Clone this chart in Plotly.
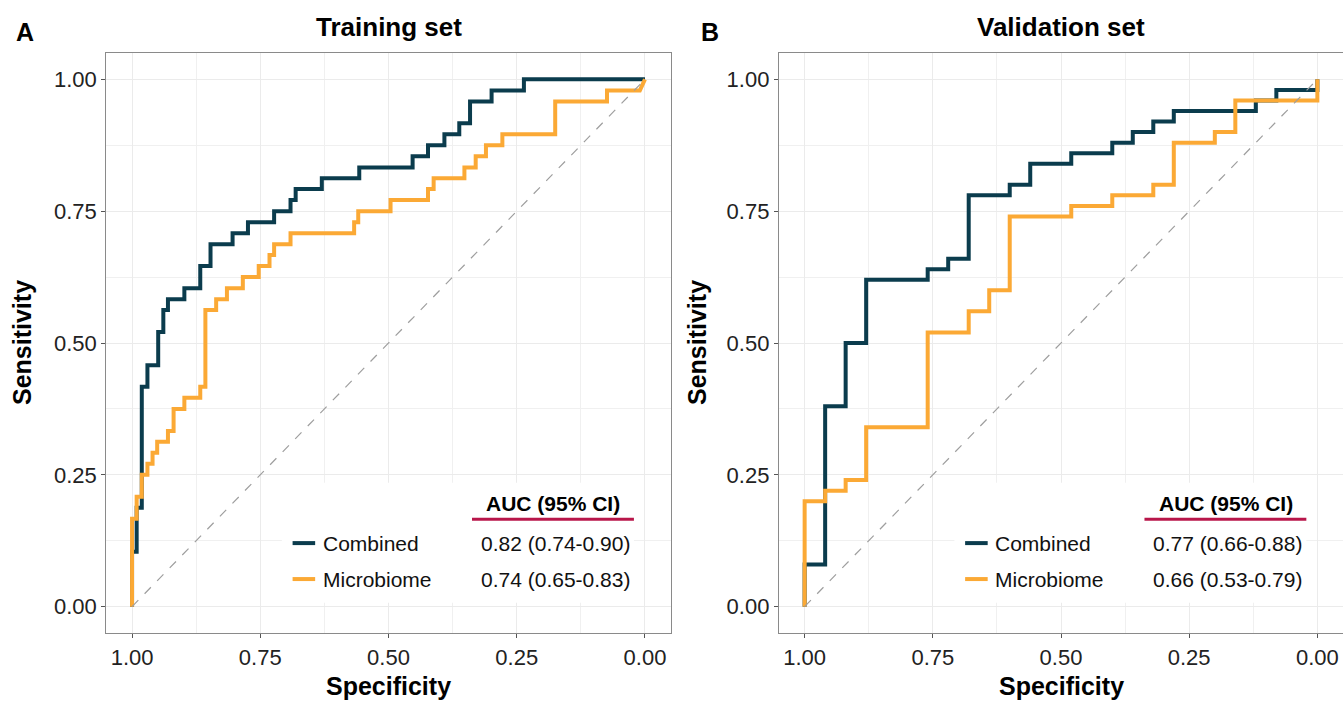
import plotly.graph_objects as go

# ---------------- data ----------------
tick_vals = [1.0, 0.75, 0.5, 0.25, 0.0]
tick_text = ["1.00", "0.75", "0.50", "0.25", "0.00"]
minor_vals = [0.875, 0.625, 0.375, 0.125]

series_names = ["Combined", "Microbiome"]
panel_titles = ["Training set", "Validation set"]
panel_letters = ["A", "B"]
auc_train = ["0.82 (0.74-0.90)", "0.74 (0.65-0.83)"]
auc_valid = ["0.77 (0.66-0.88)", "0.66 (0.53-0.79)"]

# Training set ROC corner points (specificity, sensitivity)
train_comb_spec = [1.0, 1.0, 0.991, 0.991, 0.981, 0.981, 0.970, 0.970, 0.949, 0.949,
                   0.939, 0.939, 0.930, 0.930, 0.898, 0.898, 0.867, 0.867, 0.847, 0.847,
                   0.804, 0.804, 0.774, 0.774, 0.723, 0.723, 0.691, 0.691, 0.681, 0.681,
                   0.630, 0.630, 0.557, 0.557, 0.453, 0.453, 0.423, 0.423, 0.391, 0.391,
                   0.362, 0.362, 0.341, 0.341, 0.299, 0.299, 0.236, 0.236, 0.0]
train_comb_sens = [0.0, 0.104, 0.104, 0.1875, 0.1875, 0.417, 0.417, 0.458, 0.458, 0.521,
                   0.521, 0.5625, 0.5625, 0.583, 0.583, 0.604, 0.604, 0.646, 0.646, 0.6875,
                   0.6875, 0.708, 0.708, 0.729, 0.729, 0.75, 0.75, 0.771, 0.771, 0.792,
                   0.792, 0.8125, 0.8125, 0.833, 0.833, 0.854, 0.854, 0.875, 0.875, 0.896,
                   0.896, 0.917, 0.917, 0.958, 0.958, 0.979, 0.979, 1.0, 1.0]

train_micro_spec = [1.0, 1.0, 0.991, 0.991, 0.981, 0.981, 0.970, 0.970, 0.960, 0.960,
                    0.951, 0.951, 0.930, 0.930, 0.919, 0.919, 0.898, 0.898, 0.867, 0.867,
                    0.857, 0.857, 0.836, 0.836, 0.815, 0.815, 0.784, 0.784, 0.753, 0.753,
                    0.732, 0.732, 0.723, 0.723, 0.691, 0.691, 0.567, 0.567, 0.559, 0.559,
                    0.496, 0.496, 0.423, 0.423, 0.412, 0.412, 0.352, 0.352, 0.330, 0.330,
                    0.310, 0.310, 0.278, 0.278, 0.175, 0.175, 0.074, 0.074, 0.010, 0.0]
train_micro_sens = [0.0, 0.1667, 0.1667, 0.2083, 0.2083, 0.25, 0.25, 0.271, 0.271, 0.2917,
                    0.2917, 0.3125, 0.3125, 0.333, 0.333, 0.375, 0.375, 0.396, 0.396, 0.417,
                    0.417, 0.5625, 0.5625, 0.583, 0.583, 0.604, 0.604, 0.625, 0.625, 0.646,
                    0.646, 0.667, 0.667, 0.6875, 0.6875, 0.708, 0.708, 0.729, 0.729, 0.75,
                    0.75, 0.771, 0.771, 0.792, 0.792, 0.8125, 0.8125, 0.833, 0.833, 0.854,
                    0.854, 0.875, 0.875, 0.896, 0.896, 0.958, 0.958, 0.979, 0.979, 1.0]

# Validation set ROC corner points
valid_comb_spec = [1.0, 1.0, 0.96, 0.96, 0.92, 0.92, 0.88, 0.88, 0.76, 0.76,
                   0.72, 0.72, 0.68, 0.68, 0.60, 0.60, 0.56, 0.56, 0.48, 0.48,
                   0.40, 0.40, 0.36, 0.36, 0.32, 0.32, 0.28, 0.28, 0.12, 0.12,
                   0.08, 0.08, 0.0, 0.0]
valid_comb_sens = [0.0, 0.08, 0.08, 0.38, 0.38, 0.50, 0.50, 0.62, 0.62, 0.64,
                   0.64, 0.66, 0.66, 0.78, 0.78, 0.80, 0.80, 0.84, 0.84, 0.86,
                   0.86, 0.88, 0.88, 0.90, 0.90, 0.92, 0.92, 0.94, 0.94, 0.96,
                   0.96, 0.98, 0.98, 1.0]

valid_micro_spec = [1.0, 1.0, 0.96, 0.96, 0.92, 0.92, 0.88, 0.88, 0.76, 0.76,
                    0.68, 0.68, 0.64, 0.64, 0.60, 0.60, 0.48, 0.48, 0.40, 0.40,
                    0.32, 0.32, 0.28, 0.28, 0.20, 0.20, 0.16, 0.16, 0.0, 0.0]
valid_micro_sens = [0.0, 0.20, 0.20, 0.22, 0.22, 0.24, 0.24, 0.34, 0.34, 0.52,
                    0.52, 0.56, 0.56, 0.60, 0.60, 0.74, 0.74, 0.76, 0.76, 0.78,
                    0.78, 0.80, 0.80, 0.88, 0.88, 0.90, 0.90, 0.96, 0.96, 1.0]

diag_spec = [1.0, 0.0]
diag_sens = [0.0, 1.0]

# ---------------- style ----------------
W, H = 1343, 705
C_COMB = "#0B3C4D"
C_MICRO = "#FBA935"
C_RED = "#B8164A"
FONT = "Liberation Sans, Arial, sans-serif"
X_RANGE = [1.05, -0.05]
Y_RANGE = [-0.05, 1.05]

x_domains = [[106.4 / W, 670.6 / W], [779.0 / W, 1.0]]
y_domain = [(H - 633) / H, (H - 53) / H]


def fx(frac):
    """domain fraction -> x data value (reversed axis)"""
    return X_RANGE[0] + frac * (X_RANGE[1] - X_RANGE[0])


def fy(frac):
    return Y_RANGE[0] + frac * (Y_RANGE[1] - Y_RANGE[0])


fig = go.Figure()

panels = [
    (train_comb_spec, train_comb_sens, train_micro_spec, train_micro_sens, auc_train),
    (valid_comb_spec, valid_comb_sens, valid_micro_spec, valid_micro_sens, auc_valid),
]

for i, (cs, cy, ms, my, aucs) in enumerate(panels):
    xa = "x" if i == 0 else "x2"
    ya = "y" if i == 0 else "y2"
    # legend background box (white, above gridlines, below curves)
    bx0, bx1, by0, by1 = fx(0.311), fx(0.935), fy(0.052), fy(0.259)
    fig.add_trace(go.Scatter(x=[bx0, bx1, bx1, bx0, bx0], y=[by0, by0, by1, by1, by0],
                             mode="lines", fill="toself", fillcolor="white",
                             line=dict(width=0, color="white"), xaxis=xa, yaxis=ya,
                             showlegend=False, hoverinfo="skip"))
    fig.add_trace(go.Scatter(x=cs, y=cy, mode="lines", xaxis=xa, yaxis=ya,
                             line=dict(color=C_COMB, width=4), showlegend=False,
                             name=series_names[0]))
    fig.add_trace(go.Scatter(x=ms, y=my, mode="lines", xaxis=xa, yaxis=ya,
                             line=dict(color=C_MICRO, width=4), showlegend=False,
                             name=series_names[1]))
    fig.add_trace(go.Scatter(x=diag_spec, y=diag_sens, mode="lines", xaxis=xa, yaxis=ya,
                             line=dict(color="#9e9e9e", width=1.2, dash="dash"),
                             showlegend=False, hoverinfo="skip"))

axis_common = dict(
    tickvals=tick_vals, ticktext=tick_text,
    showgrid=True, gridcolor="#ebebeb", gridwidth=1.2,
    minor=dict(tickvals=minor_vals, showgrid=True, gridcolor="#f0f0f0", gridwidth=0.8),
    showline=True, linecolor="#8a8a8a", linewidth=1.3, mirror=True,
    ticks="outside", ticklen=4, tickwidth=1, tickcolor="#555555",
    zeroline=False, tickfont=dict(family=FONT, size=22, color="#222222"),
    fixedrange=True,
)

fig.update_layout(
    width=W, height=H,
    margin=dict(l=0, r=0, t=0, b=0),
    paper_bgcolor="white", plot_bgcolor="white",
    xaxis=dict(domain=x_domains[0], range=X_RANGE, anchor="y", **axis_common),
    yaxis=dict(domain=y_domain, range=Y_RANGE, anchor="x", **axis_common),
    xaxis2=dict(domain=x_domains[1], range=X_RANGE, anchor="y2", **axis_common),
    yaxis2=dict(domain=y_domain, range=Y_RANGE, anchor="x2", **axis_common),
    showlegend=False,
)

annotations = []
shapes = []
centers = [(106.4 + 670.6) / 2, (779.0 + 1343.0) / 2]
letter_x = [24.5, 710.0]
ytitle_x = [22.0, 697.0]

for i in range(2):
    annotations.append(dict(text="<b>%s</b>" % panel_titles[i], x=centers[i] / W, y=1 - 27 / H,
                            xref="paper", yref="paper", xanchor="center", yanchor="middle",
                            showarrow=False, font=dict(family=FONT, size=26, color="black")))
    annotations.append(dict(text="<b>%s</b>" % panel_letters[i], x=letter_x[i] / W, y=1 - 32 / H,
                            xref="paper", yref="paper", xanchor="center", yanchor="middle",
                            showarrow=False, font=dict(family=FONT, size=25, color="black")))
    annotations.append(dict(text="<b>Specificity</b>", x=centers[i] / W, y=1 - 686 / H,
                            xref="paper", yref="paper", xanchor="center", yanchor="middle",
                            showarrow=False, font=dict(family=FONT, size=25, color="black")))
    annotations.append(dict(text="<b>Sensitivity</b>", x=ytitle_x[i] / W, y=1 - 343 / H,
                            xref="paper", yref="paper", xanchor="center", yanchor="middle",
                            textangle=-90, showarrow=False,
                            font=dict(family=FONT, size=25, color="black")))

    xa = "x" if i == 0 else "x2"
    ya = "y" if i == 0 else "y2"
    aucs = panels[i][4]
    annotations.append(dict(text="<b>AUC (95% CI)</b>", x=fx(0.792), y=fy(0.223), xref=xa, yref=ya,
                            xanchor="center", yanchor="middle", showarrow=False,
                            font=dict(family=FONT, size=21, color="black")))
    shapes.append(dict(type="line", xref=xa, yref=ya, x0=fx(0.648), x1=fx(0.935),
                       y0=fy(0.196), y1=fy(0.196),
                       line=dict(color=C_RED, width=3), layer="above"))
    rows_y = [0.155, 0.093]
    cols = [C_COMB, C_MICRO]
    for j in range(2):
        shapes.append(dict(type="line", xref=xa, yref=ya, x0=fx(0.330), x1=fx(0.370),
                           y0=fy(rows_y[j]), y1=fy(rows_y[j]),
                           line=dict(color=cols[j], width=4), layer="above"))
        annotations.append(dict(text=series_names[j], x=fx(0.380), y=fy(rows_y[j]), xref=xa, yref=ya,
                                xanchor="left", yanchor="middle", showarrow=False,
                                font=dict(family=FONT, size=21, color="#111111")))
        annotations.append(dict(text=aucs[j], x=fx(0.660), y=fy(rows_y[j]), xref=xa, yref=ya,
                                xanchor="left", yanchor="middle", showarrow=False,
                                font=dict(family=FONT, size=21, color="#111111")))

fig.update_layout(annotations=annotations, shapes=shapes)

fig.write_html("out.html", config={"displayModeBar": False},
               post_script="document.body.style.margin='0';")
